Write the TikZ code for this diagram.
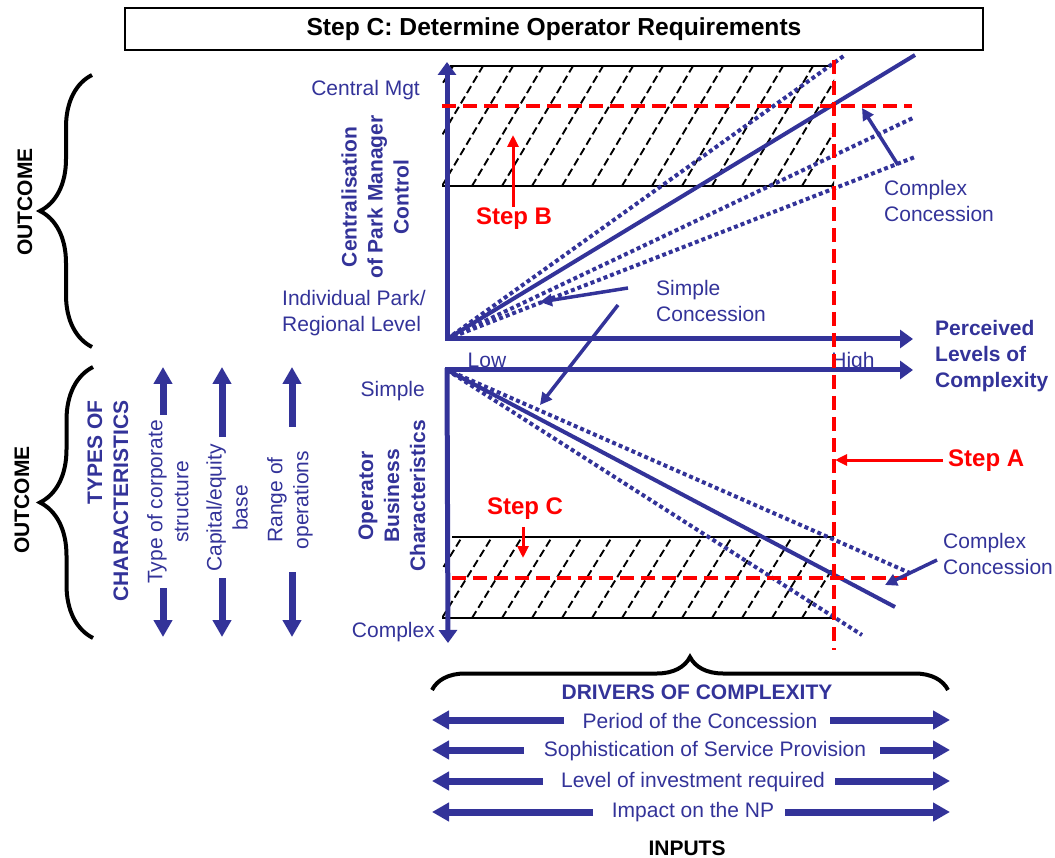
\documentclass[tikz,border=0pt]{standalone}
\usepackage{fontspec}
\setmainfont{Liberation Sans}
\usetikzlibrary{arrows.meta,decorations.pathreplacing}
\definecolor{navy}{HTML}{333399}
\definecolor{stepred}{HTML}{FF0000}

\begin{document}
\begin{tikzpicture}[x=1pt,y=-1pt,
  txt/.style={text=navy,font=\fontsize{21}{26}\selectfont,inner sep=0pt},
  btxt/.style={text=navy,font=\fontsize{21}{26}\selectfont\bfseries,inner sep=0pt},
  blk/.style={text=black,font=\fontsize{21}{26}\selectfont\bfseries,inner sep=0pt},
  steplabel/.style={text=stepred,font=\fontsize{24}{28}\selectfont\bfseries,inner sep=0pt},
  axis/.style={draw=navy,line width=5pt,-{Triangle[length=13pt,width=18pt]}},
  trend/.style={draw=navy,line width=4pt},
  dotline/.style={draw=navy,line width=4pt,dash pattern=on 4pt off 3pt},
  pointer/.style={draw=navy,line width=3.5pt,-{Triangle[length=12pt,width=12pt]}},
  redpointer/.style={draw=stepred,line width=3pt,-{Triangle[length=12pt,width=11pt]}},
  reddash/.style={draw=stepred,line width=4pt,dash pattern=on 14pt off 7pt},
  hatch/.style={draw=black,line width=1.9pt,dash pattern=on 8pt off 4pt},
  boxedge/.style={draw=black,line width=1.4pt},
  fat/.style={draw=navy,line width=7pt,-{Triangle[length=17pt,width=18pt]}},
  bracket/.style={draw=black,line width=4pt,decorate,decoration={brace,amplitude=#1}},
]
\useasboundingbox (0,0) rectangle (1055,858);

% ---------- title ----------
\node[draw=black,line width=2pt,minimum width=858pt,minimum height=42pt,
      font=\fontsize{24.6}{28}\selectfont\bfseries,inner sep=0pt] (title) at (554,29)
      {Step C: Determine Operator Requirements};

% ---------- key points of the two charts ----------
\coordinate (o1) at (447,339);   % origin, upper chart
\coordinate (o2) at (447,370);   % origin, lower chart
\coordinate (ytop) at (447,62);
\coordinate (x1end) at (913,339);
\coordinate (x2end) at (913,370);
\coordinate (ybot) at (448,643);

% ---------- hatched target bands ----------
\begin{scope}
  \clip (442,66) rectangle (834,186);
  \foreach \k in {-3,...,13}
    \draw[hatch] ({442+30*\k},186) -- ({513+30*\k},66);
\end{scope}
\draw[boxedge] (450,66) -- (834,66);
\draw[boxedge] (442,186) -- (834,186);

\begin{scope}
  \clip (442,537) rectangle (834,618);
  \foreach \k in {-3,...,13}
    \draw[hatch] ({442+30*\k},618) -- ({492+30*\k},537);
\end{scope}
\draw[boxedge] (452,537) -- (834,537);
\draw[boxedge] (442,618) -- (834,618);

% ---------- trend lines, upper chart ----------
\coordinate (u1) at (915,55);
\coordinate (u2) at (845,55);
\coordinate (u3) at (915,117);
\coordinate (u4) at (915,157);
\draw[trend] (o1) -- (u1);
\draw[dotline] (o1) -- (u2);
\draw[dotline] (o1) -- (u3);
\draw[dotline] (o1) -- (u4);

% ---------- trend lines, lower chart ----------
\coordinate (l1) at (895,607);
\coordinate (l2) at (910,573);
\coordinate (l3) at (862,635);
\draw[trend] (o2) -- (l1);
\draw[dotline] (452,372) -- (l2);
\draw[dotline] (o2) -- (l3);

% ---------- axes ----------
\node[txt,anchor=base] (low) at (487,368) {Low};
\node[txt,anchor=base] (high) at (853,368) {High};
\draw[axis] (447,341) -- (ytop);
\draw[axis] (445,339) -- (x1end);
\draw[axis] (445,370) -- (x2end);
\draw[axis] (447,368) -- (ybot);

% ---------- red construction lines ----------
\coordinate (rtop) at (834,60);
\coordinate (rbot) at (834,650);
\draw[reddash] (rtop) -- (rbot);
\draw[reddash] (442,106) -- (912,106);
\draw[reddash] (452,578) -- (912,578);

% ---------- step labels ----------
\node[steplabel] (stepB) at (514,219) {Step B};
\coordinate (bstart) at (513,207);
\coordinate (btip) at (513,135);
\draw[redpointer] (bstart) -- (btip);

\node[steplabel] (stepC) at (525,509) {Step C};
\coordinate (cstart) at (523,527);
\coordinate (ctip) at (523,558);
\draw[redpointer] (cstart) -- (ctip);

\node[steplabel,anchor=west] (stepA) at (948,461) {Step A};
\coordinate (astart) at (943,460);
\coordinate (atip) at (835,460);
\draw[redpointer] (astart) -- (atip);

% ---------- concession labels ----------
\node[txt,anchor=west,align=left] (simple) at (656,301) {Simple\\Concession};
\coordinate (s1a) at (628,288);
\coordinate (s1b) at (540,302);
\coordinate (s2a) at (618,305);
\coordinate (s2b) at (540,405);
\draw[pointer] (s1a) -- (s1b);
\draw[pointer] (s2a) -- (s2b);

\node[txt,anchor=west,align=left] (cxup) at (884,201) {Complex\\Concession};
\coordinate (cu1) at (898,165);
\coordinate (cu2) at (862,108);
\draw[pointer] (cu1) -- (cu2);

\node[txt,anchor=west,align=left] (cxlow) at (943,554) {Complex\\Concession};
\coordinate (cl1) at (937,560);
\coordinate (cl2) at (885,585);
\draw[pointer] (cl1) -- (cl2);

\node[btxt,anchor=west,align=left] (perceived) at (935,356)
  {Perceived\\Levels of\\Complexity};

% ---------- axis captions ----------
\node[txt,anchor=east] (central) at (420,90) {Central Mgt};
\node[txt,anchor=west,align=left] (indiv) at (282,313) {Individual Park/\\Regional Level};
\node[btxt,rotate=90,align=center] (cpm) at (375,197)
  {Centralisation\\of Park Manager\\Control};

\node[txt,anchor=east] (simpleax) at (425,391) {Simple};
\node[txt,anchor=east] (complexax) at (435,632) {Complex};
\node[btxt,rotate=90,align=center] (obc) at (392,496)
  {Operator\\Business\\Characteristics};

% ---------- outcome braces ----------
\draw[bracket=52pt] (92,347) -- (92,75);
\node[blk,rotate=90] (out1) at (25,202) {OUTCOME};
\draw[bracket=53pt] (93,638) -- (93,367);
\node[blk,rotate=90] (out2) at (22,500) {OUTCOME};

% ---------- types of characteristics ----------
\node[btxt,rotate=90,align=right] (types) at (108,501) {TYPES OF\\CHARACTERISTICS};
\node[txt,rotate=90,align=center] (corp) at (168,502) {Type of corporate\\structure};
\node[txt,rotate=90,align=center] (equity) at (227,508) {Capital/equity\\base};
\node[txt,rotate=90,align=center] (range) at (290,500) {Range of\\operations};

\coordinate (c1u) at (163,415);  \coordinate (c1ut) at (163,367);
\coordinate (c1d) at (163,588);  \coordinate (c1dt) at (163,637);
\coordinate (c2u) at (222,437);  \coordinate (c2ut) at (222,367);
\coordinate (c2d) at (222,578);  \coordinate (c2dt) at (222,637);
\coordinate (c3u) at (292,427);  \coordinate (c3ut) at (292,367);
\coordinate (c3d) at (292,572);  \coordinate (c3dt) at (292,637);
\draw[fat] (c1u) -- (c1ut);  \draw[fat] (c1d) -- (c1dt);
\draw[fat] (c2u) -- (c2ut);  \draw[fat] (c2d) -- (c2dt);
\draw[fat] (c3u) -- (c3ut);  \draw[fat] (c3d) -- (c3dt);

% ---------- drivers of complexity ----------
\draw[bracket=33pt] (432,690) -- (948,690);
\node[btxt] (drivers) at (697,692) {DRIVERS OF COMPLEXITY};

\node[txt] (period) at (700,721) {Period of the Concession};
\node[txt] (soph) at (705,751) {Sophistication of Service Provision};
\node[txt] (invest) at (693,782) {Level of investment required};
\node[txt] (impact) at (693,812) {Impact on the NP};

\coordinate (p1a) at (564,720);  \coordinate (p1l) at (432,720);
\coordinate (p1b) at (830,720);  \coordinate (p1r) at (950,720);
\coordinate (p2a) at (524,750);  \coordinate (p2l) at (432,750);
\coordinate (p2b) at (880,750);  \coordinate (p2r) at (950,750);
\coordinate (p3a) at (543,781);  \coordinate (p3l) at (432,781);
\coordinate (p3b) at (835,781);  \coordinate (p3r) at (950,781);
\coordinate (p4a) at (593,812);  \coordinate (p4l) at (432,812);
\coordinate (p4b) at (785,812);  \coordinate (p4r) at (950,812);
\draw[fat] (p1a) -- (p1l);  \draw[fat] (p1b) -- (p1r);
\draw[fat] (p2a) -- (p2l);  \draw[fat] (p2b) -- (p2r);
\draw[fat] (p3a) -- (p3l);  \draw[fat] (p3b) -- (p3r);
\draw[fat] (p4a) -- (p4l);  \draw[fat] (p4b) -- (p4r);

\node[blk] (inputs) at (687,848) {INPUTS};
\end{tikzpicture}
\end{document}
